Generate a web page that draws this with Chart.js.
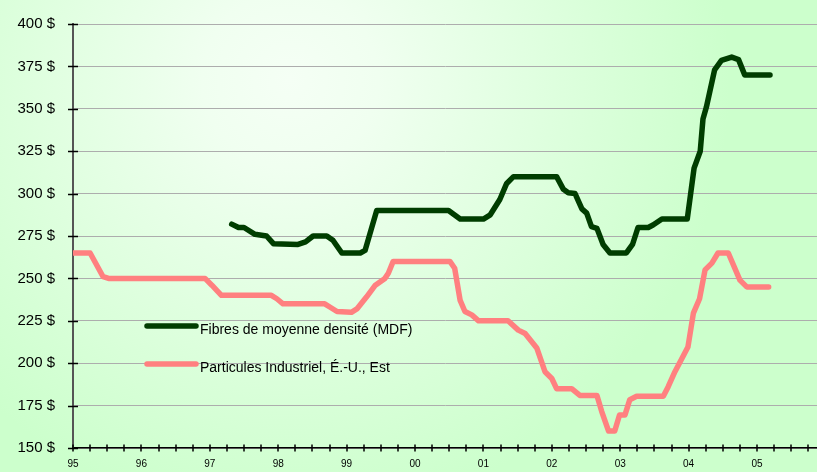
<!DOCTYPE html>
<html>
<head>
<meta charset="utf-8">
<script src="https://cdn.jsdelivr.net/npm/chart.js@4"></script>
<style>
html, body { margin: 0; padding: 0; background: #ccffcc; }
#wrap { width: 817px; height: 472px; }
</style>
</head>
<body>
<div id="wrap"><canvas id="chart" width="817" height="472"></canvas></div>
<script>
// data
const mdfYears = [1997.32, 1997.42, 1997.50, 1997.66, 1997.83, 1997.93, 1998.29, 1998.40, 1998.51, 1998.71, 1998.80, 1998.93, 1999.20, 1999.27, 1999.44, 2000.49, 2000.66, 2001.00, 2001.10, 2001.24, 2001.34, 2001.44, 2002.07, 2002.17, 2002.24, 2002.34, 2002.44, 2002.51, 2002.58, 2002.66, 2002.75, 2002.85, 2003.09, 2003.18, 2003.26, 2003.41, 2003.48, 2003.61, 2003.98, 2004.03, 2004.08, 2004.17, 2004.21, 2004.26, 2004.38, 2004.48, 2004.63, 2004.73, 2004.82, 2005.19];
const mdfValues = [282, 280, 280, 276, 275, 270.5, 270, 271.5, 275, 275, 272.5, 265, 265, 266.5, 290, 290, 285, 285, 287.5, 296.5, 306, 310, 310, 302.5, 300.5, 300, 291, 288.5, 280.5, 279.5, 270, 265, 265, 270, 280, 280, 281.5, 285, 285, 300, 315, 325, 344, 351, 373, 378.5, 380.5, 379, 370, 370];

const pbYears = [1995.00, 1995.25, 1995.44, 1995.52, 1996.93, 1997.03, 1997.17, 1997.90, 1997.98, 1998.07, 1998.68, 1998.76, 1998.86, 1999.07, 1999.15, 1999.29, 1999.42, 1999.56, 1999.61, 1999.68, 2000.51, 2000.58, 2000.66, 2000.73, 2000.83, 2000.93, 2001.36, 2001.51, 2001.61, 2001.78, 2001.90, 2002.00, 2002.07, 2002.29, 2002.41, 2002.66, 2002.73, 2002.83, 2002.92, 2002.99, 2003.07, 2003.14, 2003.24, 2003.63, 2003.70, 2003.80, 2003.99, 2004.07, 2004.16, 2004.24, 2004.34, 2004.43, 2004.58, 2004.75, 2004.85, 2005.17];
const pbValues = [265, 265, 251, 250, 250, 246, 240, 240, 238, 235, 235, 233, 230.5, 230, 232, 239, 246, 250, 253, 260, 260, 256, 237, 230.5, 228.5, 225, 225, 219.5, 217.5, 209, 195, 191, 185, 185, 181, 181, 171.5, 160, 160, 169.5, 169.5, 178.5, 180.5, 180.5, 186, 195, 209.5, 229.5, 238, 255, 259, 265, 265, 249, 245, 245];

const seriesNames = ["Fibres de moyenne densité (MDF)", "Particules Industriel, É.-U., Est"];
const yearLabels = ["95", "96", "97", "98", "99", "00", "01", "02", "03", "04", "05"];
const firstYear = 1995;

const toPoints = (xs, ys) => xs.map((x, i) => ({ x: x, y: ys[i] }));

const bgPlugin = {
  id: "bg",
  beforeDraw(chart) {
    const ctx = chart.ctx;
    const g = ctx.createRadialGradient(290, 80, 0, 290, 80, 440);
    g.addColorStop(0, "#f5fff5");
    g.addColorStop(0.2, "#f0fff0");
    g.addColorStop(1, "#ccffcc");
    ctx.save();
    ctx.fillStyle = g;
    ctx.fillRect(0, 0, chart.width, chart.height);
    ctx.restore();
  }
};

// tick marks that cross the axis lines
const crossTicks = {
  id: "crossTicks",
  afterDraw(chart) {
    const ctx = chart.ctx;
    const x = chart.scales.x, y = chart.scales.y;
    ctx.save();
    ctx.strokeStyle = "#000";
    ctx.lineWidth = 1.5;
    ctx.beginPath();
    y.ticks.forEach(t => {
      const py = Math.round(y.getPixelForValue(t.value)) + 0.5;
      ctx.moveTo(x.left - 5, py);
      ctx.lineTo(x.left + 5, py);
    });
    x.ticks.forEach(t => {
      const px = Math.round(x.getPixelForValue(t.value));
      ctx.moveTo(px, y.bottom - 3.5);
      ctx.lineTo(px, y.bottom + 3.5);
    });
    ctx.stroke();
    ctx.restore();
  }
};

// legend drawn inside the plot
const innerLegend = {
  id: "innerLegend",
  afterDatasetsDraw(chart) {
    const ctx = chart.ctx;
    const rows = [326, 364];
    ctx.save();
    ctx.font = "14px 'Liberation Sans', Arial, sans-serif";
    ctx.textBaseline = "middle";
    chart.data.datasets.forEach((ds, i) => {
      ctx.strokeStyle = ds.borderColor;
      ctx.lineWidth = 5.5;
      ctx.lineCap = "round";
      ctx.beginPath();
      ctx.moveTo(147, rows[i]);
      ctx.lineTo(196, rows[i]);
      ctx.stroke();
      ctx.fillStyle = "#000";
      ctx.fillText(ds.label, 200, rows[i] + 4);
    });
    ctx.restore();
  }
};

new Chart(document.getElementById("chart"), {
  type: "line",
  data: {
    datasets: [
      {
        label: seriesNames[0],
        data: toPoints(mdfYears, mdfValues),
        borderColor: "#003d00",
        borderWidth: 5.5,
        borderJoinStyle: "round",
        borderCapStyle: "round",
        pointRadius: 0,
        tension: 0
      },
      {
        label: seriesNames[1],
        data: toPoints(pbYears, pbValues),
        borderColor: "#ff8080",
        borderWidth: 5.5,
        borderJoinStyle: "round",
        borderCapStyle: "round",
        pointRadius: 0,
        tension: 0
      }
    ]
  },
  options: {
    responsive: false,
    animation: false,
    layout: { padding: { top: 24, right: 0, left: 0, bottom: 0 } },
    plugins: { legend: { display: false }, tooltip: { enabled: false } },
    scales: {
      x: {
        type: "linear",
        min: 1995,
        max: 2005.877,
        afterBuildTicks(scale) {
          const ticks = [];
          for (let v = 1995; v <= 2005.76; v += 0.25) ticks.push({ value: Math.round(v * 100) / 100 });
          scale.ticks = ticks;
        },
        afterFit(scale) { scale.height = 24; },
        ticks: {
          autoSkip: false,
          maxRotation: 0,
          padding: 0,
          color: "#000",
          font: { family: "'Liberation Sans', Arial, sans-serif", size: 10 },
          callback(v) {
            return Number.isInteger(v) ? yearLabels[v - firstYear] : "";
          }
        },
        grid: { drawOnChartArea: false, drawTicks: true, tickLength: 10, tickColor: "rgba(0,0,0,0)" },
        border: { display: true, color: "#000", width: 1.5 }
      },
      y: {
        min: 150,
        max: 400,
        afterFit(scale) { scale.width = 73; },
        ticks: {
          stepSize: 25,
          padding: 0,
          color: "#000",
          font: { family: "'Liberation Sans', Arial, sans-serif", size: 15 },
          callback: v => v + " $"
        },
        grid: { color: "#adadad", lineWidth: 1, drawTicks: true, tickLength: 18, tickColor: "rgba(0,0,0,0)" },
        border: { display: true, color: "#555", width: 2 }
      }
    }
  },
  plugins: [bgPlugin, crossTicks, innerLegend]
});
</script>
</body>
</html>
